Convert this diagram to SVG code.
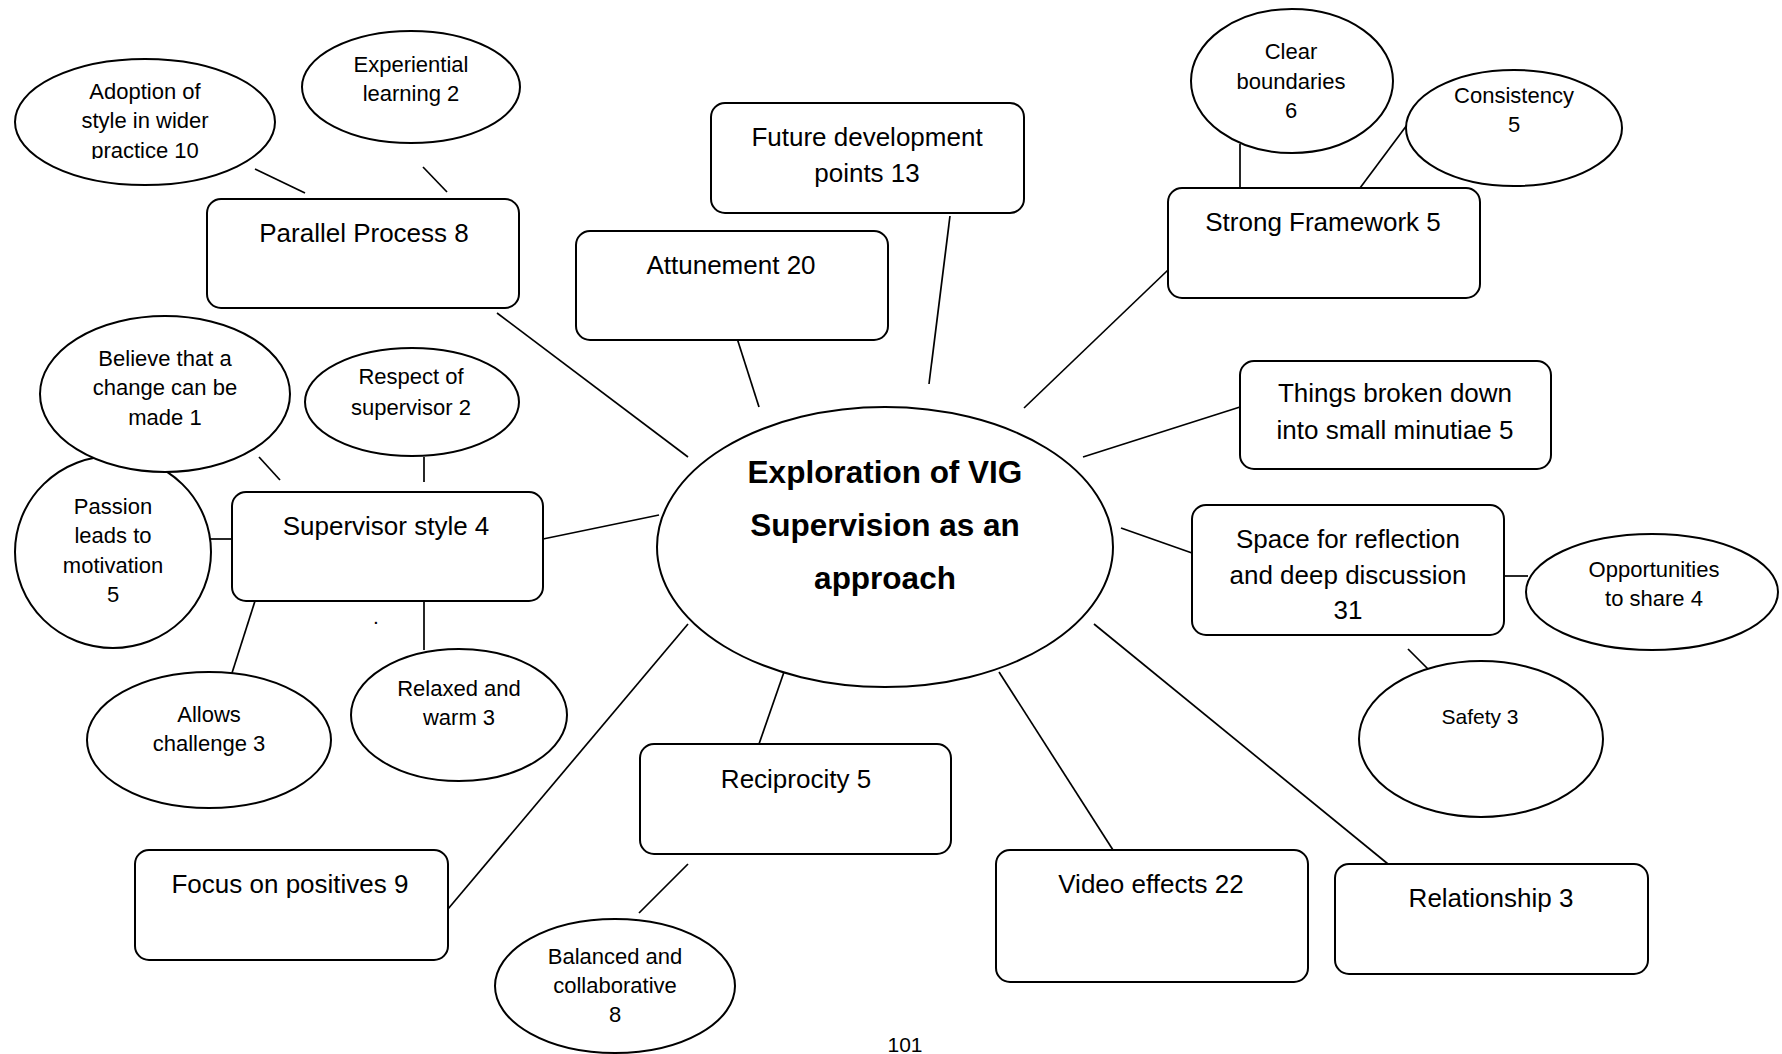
<svg xmlns="http://www.w3.org/2000/svg" width="1782" height="1054" viewBox="0 0 1782 1054">
  <style>
    .shape { fill: #ffffff; stroke: #000000; stroke-width: 2; }
    .link { stroke: #000000; stroke-width: 1.7; fill: none; }
    text { font-family: "Liberation Sans", Arial, sans-serif; fill: #000000; text-anchor: middle; }
    .box { font-size: 26px; }
    .bub { font-size: 22px; }
    .small { font-size: 21px; }
    .hub { font-size: 31.5px; font-weight: bold; }
  </style>
  <defs>
    <clipPath id="clipAdoption">
      <rect x="0" y="0" width="300" height="159"/>
    </clipPath>
  </defs>
  <rect x="0" y="0" width="1782" height="1054" fill="#ffffff"/>

  <!-- spokes and sub-topic links -->
  <g id="connectors">
    <line class="link" x1="255" y1="169" x2="305" y2="193"/>
    <line class="link" x1="423" y1="167" x2="447" y2="192"/>
    <line class="link" x1="497" y1="313" x2="688" y2="457"/>
    <line class="link" x1="736" y1="335" x2="759" y2="407"/>
    <line class="link" x1="950" y1="216" x2="929" y2="384"/>
    <line class="link" x1="1240" y1="144" x2="1240" y2="188"/>
    <line class="link" x1="1407" y1="125" x2="1360" y2="188"/>
    <line class="link" x1="1168" y1="270" x2="1024" y2="408"/>
    <line class="link" x1="1240" y1="407" x2="1083" y2="457"/>
    <line class="link" x1="1192" y1="553" x2="1121" y2="528"/>
    <line class="link" x1="1504" y1="576" x2="1528" y2="576"/>
    <line class="link" x1="1408" y1="649" x2="1432" y2="673"/>
    <line class="link" x1="1094" y1="624" x2="1388" y2="864"/>
    <line class="link" x1="999" y1="672" x2="1113" y2="850"/>
    <line class="link" x1="784" y1="672" x2="759" y2="744"/>
    <line class="link" x1="688" y1="864" x2="639" y2="913"/>
    <line class="link" x1="448" y1="909" x2="688" y2="624"/>
    <line class="link" x1="543" y1="539" x2="659" y2="515"/>
    <line class="link" x1="259" y1="457" x2="280" y2="480"/>
    <line class="link" x1="424" y1="457" x2="424" y2="482"/>
    <line class="link" x1="206" y1="539" x2="232" y2="539"/>
    <line class="link" x1="255" y1="601" x2="232" y2="673"/>
    <line class="link" x1="424" y1="601" x2="424" y2="650"/>
  </g>

  <!-- central theme -->
  <g id="hub">
    <ellipse class="shape" cx="885" cy="547" rx="228" ry="140"/>
    <text class="hub" x="885" y="483">Exploration of VIG</text>
    <text class="hub" x="885" y="536">Supervision as an</text>
    <text class="hub" x="885" y="589">approach</text>
  </g>

  <!-- themes -->
  <g id="parallel-process">
    <rect class="shape" x="207" y="199" width="312" height="109" rx="14"/>
    <text class="box" x="364" y="242">Parallel Process 8</text>
  </g>
  <g id="attunement">
    <rect class="shape" x="576" y="231" width="312" height="109" rx="14"/>
    <text class="box" x="731" y="274">Attunement 20</text>
  </g>
  <g id="future-development">
    <rect class="shape" x="711" y="103" width="313" height="110" rx="14"/>
    <text class="box" x="867" y="146">Future development</text>
    <text class="box" x="867" y="182">points 13</text>
  </g>
  <g id="strong-framework">
    <rect class="shape" x="1168" y="188" width="312" height="110" rx="14"/>
    <text class="box" x="1323" y="231">Strong Framework 5</text>
  </g>
  <g id="things-broken-down">
    <rect class="shape" x="1240" y="361" width="311" height="108" rx="14"/>
    <text class="box" x="1395" y="402">Things broken down</text>
    <text class="box" x="1395" y="439">into small minutiae 5</text>
  </g>
  <g id="space-for-reflection">
    <rect class="shape" x="1192" y="505" width="312" height="130" rx="14"/>
    <text class="box" x="1348" y="548">Space for reflection</text>
    <text class="box" x="1348" y="584">and deep discussion</text>
    <text class="box" x="1348" y="619">31</text>
  </g>
  <g id="relationship">
    <rect class="shape" x="1335" y="864" width="313" height="110" rx="14"/>
    <text class="box" x="1491" y="907">Relationship 3</text>
  </g>
  <g id="video-effects">
    <rect class="shape" x="996" y="850" width="312" height="132" rx="14"/>
    <text class="box" x="1151" y="893">Video effects 22</text>
  </g>
  <g id="reciprocity">
    <rect class="shape" x="640" y="744" width="311" height="110" rx="14"/>
    <text class="box" x="796" y="788">Reciprocity 5</text>
  </g>
  <g id="focus-on-positives">
    <rect class="shape" x="135" y="850" width="313" height="110" rx="14"/>
    <text class="box" x="290" y="893">Focus on positives 9</text>
  </g>
  <g id="supervisor-style">
    <rect class="shape" x="232" y="492" width="311" height="109" rx="14"/>
    <text class="box" x="386" y="535">Supervisor style 4</text>
  </g>

  <!-- sub-themes -->
  <g id="adoption-of-style">
    <ellipse class="shape" cx="145" cy="122" rx="130" ry="63"/>
    <g clip-path="url(#clipAdoption)">
      <text class="bub" x="145" y="99">Adoption of</text>
      <text class="bub" x="145" y="128">style in wider</text>
      <text class="bub" x="145" y="158">practice 10</text>
    </g>
  </g>
  <g id="experiential-learning">
    <ellipse class="shape" cx="411" cy="87" rx="109" ry="56"/>
    <text class="bub" x="411" y="72">Experiential</text>
    <text class="bub" x="411" y="101">learning 2</text>
  </g>
  <g id="clear-boundaries">
    <ellipse class="shape" cx="1292" cy="81" rx="101" ry="72"/>
    <text class="bub" x="1291" y="59">Clear</text>
    <text class="bub" x="1291" y="89">boundaries</text>
    <text class="bub" x="1291" y="118">6</text>
  </g>
  <g id="consistency">
    <ellipse class="shape" cx="1514" cy="128" rx="108" ry="58"/>
    <text class="bub" x="1514" y="103">Consistency</text>
    <text class="bub" x="1514" y="132">5</text>
  </g>
  <g id="opportunities-to-share">
    <ellipse class="shape" cx="1652" cy="592" rx="126" ry="58"/>
    <text class="bub" x="1654" y="577">Opportunities</text>
    <text class="bub" x="1654" y="606">to share 4</text>
  </g>
  <g id="safety">
    <ellipse class="shape" cx="1481" cy="739" rx="122" ry="78"/>
    <text class="small" x="1480" y="724">Safety 3</text>
  </g>
  <g id="balanced-collaborative">
    <ellipse class="shape" cx="615" cy="986" rx="120" ry="67"/>
    <text class="bub" x="615" y="964">Balanced and</text>
    <text class="bub" x="615" y="993">collaborative</text>
    <text class="bub" x="615" y="1022">8</text>
  </g>
  <g id="passion-motivation">
    <ellipse class="shape" cx="113" cy="552" rx="98" ry="96"/>
    <text class="bub" x="113" y="514">Passion</text>
    <text class="bub" x="113" y="543">leads to</text>
    <text class="bub" x="113" y="573">motivation</text>
    <text class="bub" x="113" y="602">5</text>
  </g>
  <g id="believe-change">
    <ellipse class="shape" cx="165" cy="394" rx="125" ry="78"/>
    <text class="bub" x="165" y="366">Believe that a</text>
    <text class="bub" x="165" y="395">change can be</text>
    <text class="bub" x="165" y="425">made 1</text>
  </g>
  <g id="respect-of-supervisor">
    <ellipse class="shape" cx="412" cy="402" rx="107" ry="54"/>
    <text class="bub" x="411" y="384">Respect of</text>
    <text class="bub" x="411" y="415">supervisor 2</text>
  </g>
  <g id="allows-challenge">
    <ellipse class="shape" cx="209" cy="740" rx="122" ry="68"/>
    <text class="bub" x="209" y="722">Allows</text>
    <text class="bub" x="209" y="751">challenge 3</text>
  </g>
  <g id="relaxed-warm">
    <ellipse class="shape" cx="459" cy="715" rx="108" ry="66"/>
    <text class="bub" x="459" y="696">Relaxed and</text>
    <text class="bub" x="459" y="725">warm 3</text>
  </g>

  <!-- stray mark and page number -->
  <text class="small" x="376" y="624">.</text>
  <text class="small" x="905" y="1052">101</text>
</svg>
